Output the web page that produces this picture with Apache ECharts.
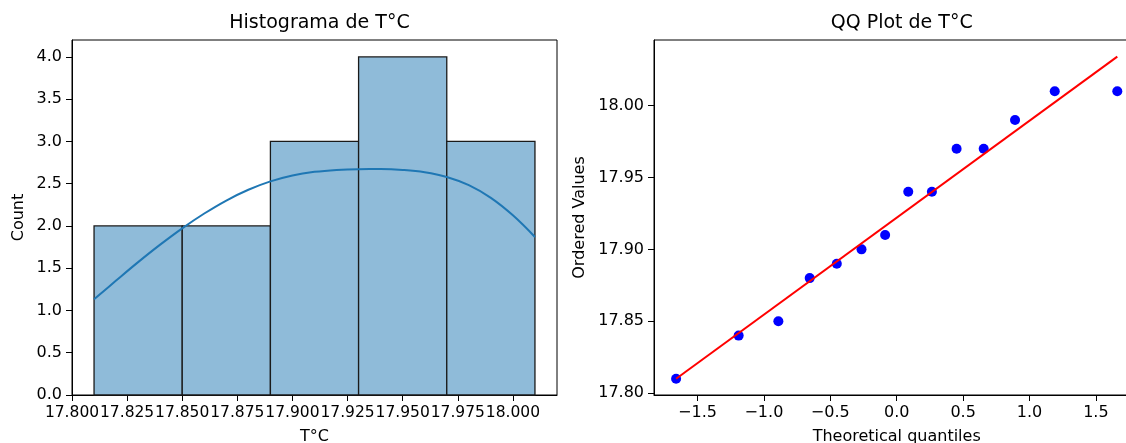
<!DOCTYPE html>
<html>
<head>
<meta charset="utf-8">
<script src="https://cdn.jsdelivr.net/npm/echarts@6/dist/echarts.min.js"></script>
<style>
  html, body { margin: 0; padding: 0; background: #fff; }
  #chart { width: 1126px; height: 443px; }
</style>
</head>
<body>
<div id="chart"></div>
<script>
// ---- Histogram data ----
const binEdges = [17.81, 17.85, 17.89, 17.93, 17.97, 18.01];
const binCounts = [2, 2, 3, 4, 3];
// KDE curve values (count scale)
const kdeX = [17.81, 17.82, 17.83, 17.84, 17.85, 17.86, 17.87, 17.88, 17.89, 17.90, 17.91,
              17.92, 17.93, 17.94, 17.95, 17.96, 17.97, 17.98, 17.99, 18.00, 18.01];
const kdeY = [1.132, 1.354, 1.572, 1.779, 1.972, 2.147, 2.301, 2.428, 2.527, 2.597, 2.640,
              2.663, 2.672, 2.673, 2.663, 2.636, 2.580, 2.483, 2.333, 2.126, 1.869];
const histXTicks = [17.800, 17.825, 17.850, 17.875, 17.900, 17.925, 17.950, 17.975, 18.000];
const histYTicks = [0, 0.5, 1.0, 1.5, 2.0, 2.5, 3.0, 3.5, 4.0];

// ---- QQ plot data ----
const qqTheoretical = [-1.661, -1.190, -0.891, -0.655, -0.451, -0.265, -0.087,
                        0.087, 0.265, 0.451, 0.655, 0.891, 1.190, 1.661];
const qqOrdered = [17.81, 17.84, 17.85, 17.88, 17.89, 17.90, 17.91,
                   17.94, 17.94, 17.97, 17.97, 17.99, 18.01, 18.01];
const fitLineX = [-1.661, 1.661];
const fitLineY = [17.810, 18.034];
const qqXTicks = [-1.5, -1.0, -0.5, 0.0, 0.5, 1.0, 1.5];
const qqYTicks = [17.80, 17.85, 17.90, 17.95, 18.00];

const FONT = 'DejaVu Sans';
const chart = echarts.init(document.getElementById('chart'), null, { renderer: 'canvas' });

function axisCommon(ticks, fmt, fs) {
  return {
    axisLine: { show: true, onZero: false, lineStyle: { color: '#000', width: 1 } },
    axisTick: { show: true, inside: false, length: 6, customValues: ticks, lineStyle: { color: '#000', width: 1 } },
    axisLabel: { customValues: ticks, formatter: fmt, color: '#000', fontFamily: FONT, fontSize: fs || 16, margin: 10,
                 showMinLabel: true, showMaxLabel: true, hideOverlap: false },
    splitLine: { show: false },
    nameTextStyle: { color: '#000', fontFamily: FONT, fontSize: 16 },
    nameLocation: 'middle'
  };
}
const minus = v => v.replace('-', '\u2212');

const option = {
  animation: false,
  backgroundColor: '#fff',
  title: [
    { text: 'Histograma de T°C', left: 314.5, top: 9, textAlign: 'center',
      textStyle: { fontFamily: FONT, fontSize: 19, fontWeight: 'normal', color: '#000' } },
    { text: 'QQ Plot de T°C', left: 896.7, top: 9, textAlign: 'center',
      textStyle: { fontFamily: FONT, fontSize: 19, fontWeight: 'normal', color: '#000' } }
  ],
  grid: [
    { left: 72, top: 40, width: 485, height: 355, outerBoundsMode: 'none', containLabel: false,
      show: true, borderColor: '#000', borderWidth: 1, backgroundColor: 'transparent' },
    { left: 654, top: 40, width: 485.4, height: 355, outerBoundsMode: 'none', containLabel: false,
      show: true, borderColor: '#000', borderWidth: 1, backgroundColor: 'transparent' }
  ],
  xAxis: [
    Object.assign(axisCommon(histXTicks, v => v.toFixed(3), 15.5), {
      type: 'value', gridIndex: 0, min: 17.80, max: 18.02, name: 'T°C', nameGap: 34
    }),
    Object.assign(axisCommon(qqXTicks, v => minus(v.toFixed(1))), {
      type: 'value', gridIndex: 1, min: -1.8274, max: 1.8274, name: 'Theoretical quantiles', nameGap: 34
    })
  ],
  yAxis: [
    Object.assign(axisCommon(histYTicks, v => v.toFixed(1)), {
      type: 'value', gridIndex: 0, min: 0, max: 4.2, name: 'Count', nameGap: 45, nameRotate: 90
    }),
    Object.assign(axisCommon(qqYTicks, v => v.toFixed(2)), {
      type: 'value', gridIndex: 1, min: 17.7987, max: 18.0456, name: 'Ordered Values', nameGap: 66, nameRotate: 90
    })
  ],
  series: [
    {
      type: 'custom',
      xAxisIndex: 0, yAxisIndex: 0,
      data: binCounts.map((c, i) => [binEdges[i], binEdges[i + 1], c]),
      encode: { x: [0, 1], y: 2 },
      renderItem: function (params, api) {
        const p0 = api.coord([api.value(0), 0]);
        const p1 = api.coord([api.value(1), api.value(2)]);
        return {
          type: 'rect',
          shape: { x: p0[0], y: p1[1], width: p1[0] - p0[0], height: p0[1] - p1[1] },
          style: { fill: '#8fbbd9', stroke: '#1a1a1a', lineWidth: 1.3 }
        };
      },
      z: 2
    },
    {
      type: 'line',
      xAxisIndex: 0, yAxisIndex: 0,
      data: kdeX.map((x, i) => [x, kdeY[i]]),
      smooth: 0.4,
      showSymbol: false,
      lineStyle: { color: '#1f77b4', width: 2 },
      z: 3
    },
    {
      type: 'scatter',
      xAxisIndex: 1, yAxisIndex: 1,
      data: qqTheoretical.map((x, i) => [x, qqOrdered[i]]),
      symbol: 'circle',
      symbolSize: 10,
      itemStyle: { color: '#0000ff', opacity: 1 },
      z: 2
    },
    {
      type: 'line',
      xAxisIndex: 1, yAxisIndex: 1,
      data: fitLineX.map((x, i) => [x, fitLineY[i]]),
      showSymbol: false,
      lineStyle: { color: '#ff0000', width: 2 },
      z: 3
    }
  ]
};
chart.setOption(option);
</script>
</body>
</html>
